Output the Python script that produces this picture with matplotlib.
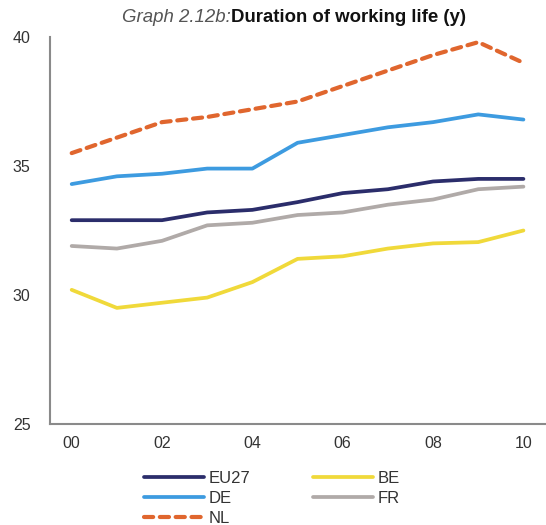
import matplotlib
matplotlib.use("Agg")
import matplotlib.pyplot as plt

plt.rcParams['font.family'] = ['Liberation Sans', 'DejaVu Sans']

years = list(range(2000, 2011))
tick_labels = ["00", "02", "04", "06", "08", "10"]
eu27 = [32.9, 32.9, 32.9, 33.2, 33.3, 33.6, 33.95, 34.1, 34.4, 34.5, 34.5]
be = [30.2, 29.5, 29.7, 29.9, 30.5, 31.4, 31.5, 31.8, 32.0, 32.05, 32.5]
de = [34.3, 34.6, 34.7, 34.9, 34.9, 35.9, 36.2, 36.5, 36.7, 37.0, 36.8]
fr = [31.9, 31.8, 32.1, 32.7, 32.8, 33.1, 33.2, 33.5, 33.7, 34.1, 34.2]
nl = [35.5, 36.1, 36.7, 36.9, 37.2, 37.5, 38.1, 38.7, 39.3, 39.8, 39.0]

fig = plt.figure(figsize=(5.46, 5.25), dpi=100)
ax = fig.add_axes([0.0916, 0.1924, 0.9084, 0.7371])

x = list(range(len(years)))
l_eu, = ax.plot(x, eu27, color='#2b2d6b', lw=2.7, solid_capstyle='round', label='EU27')
l_de, = ax.plot(x, de, color='#3d9be0', lw=2.7, solid_capstyle='round', label='DE')
l_nl, = ax.plot(x, nl, color='#e0662e', lw=3.0, ls=(0, (2.2, 1.6)), dash_capstyle='round', label='NL')
l_be, = ax.plot(x, be, color='#f0d93a', lw=2.7, solid_capstyle='round', label='BE')
l_fr, = ax.plot(x, fr, color='#b0aaa8', lw=2.7, solid_capstyle='round', label='FR')
for l, z in zip([l_nl, l_de, l_eu, l_fr, l_be], [5, 4, 3, 2, 1]):
    l.set_zorder(z)

ax.set_xlim(-0.48, 10.5)
ax.set_ylim(25, 40)
ax.set_yticks([25, 30, 35, 40])
ax.set_xticks(x[::2])
ax.set_xticklabels(tick_labels)
ax.tick_params(length=0, labelsize=11.5, colors='#333333', pad=9)
ax.tick_params(axis='y', pad=14)
for s in ['top', 'right']:
    ax.spines[s].set_visible(False)
for s in ['left', 'bottom']:
    ax.spines[s].set_color('#8a8a8a')
    ax.spines[s].set_linewidth(1.5)

t1 = fig.text(0.223, 0.967, "Graph 2.12b:", fontsize=13.4, style='italic', color='#555555', va='center', ha='left')
fig.canvas.draw()
bb = t1.get_window_extent()
fig.text(bb.x1 / fig.bbox.width, 0.967, "Duration of working life (y)", fontsize=13.4, fontweight='bold', color='#111111', va='center', ha='left')

leg = fig.legend(handles=[l_eu, l_de, l_nl, l_be, l_fr], ncol=2, loc='upper left',
                 bbox_to_anchor=(0.264, 0.103), frameon=False, fontsize=12,
                 handlelength=3.6, handletextpad=0.25, columnspacing=3.8,
                 labelspacing=0.3, borderaxespad=0, borderpad=0)
for t in leg.get_texts():
    t.set_color('#333333')

fig.savefig("out.png", dpi=100)
